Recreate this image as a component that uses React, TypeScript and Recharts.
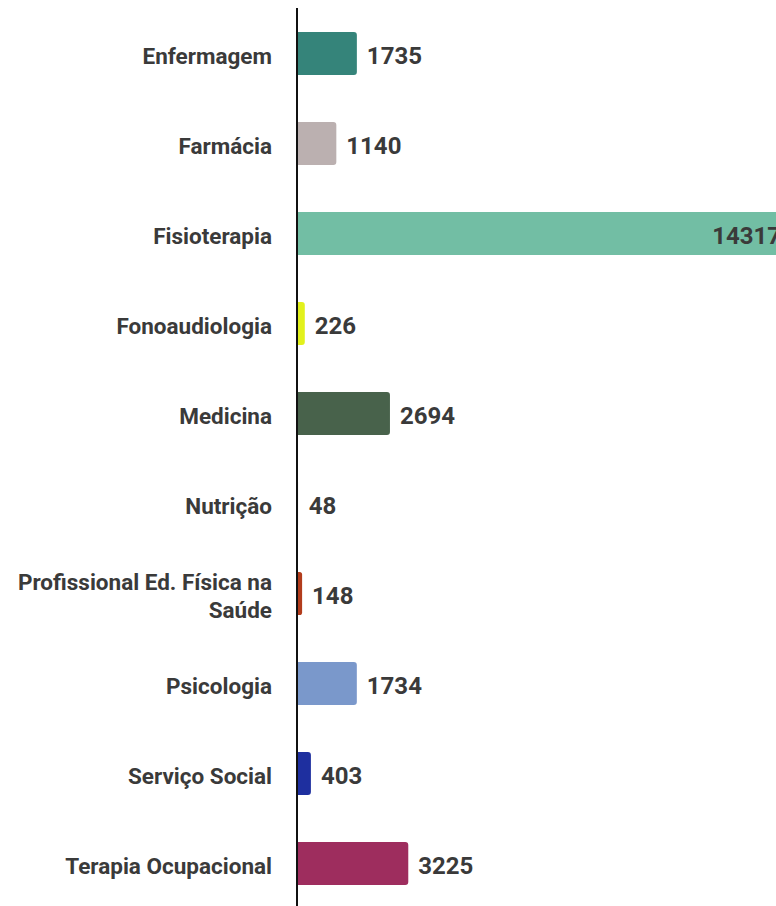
import { Bar, BarChart, Cell, LabelList, XAxis, YAxis } from "recharts";

const categories = [
  "Enfermagem",
  "Farmácia",
  "Fisioterapia",
  "Fonoaudiologia",
  "Medicina",
  "Nutrição",
  "Profissional Ed. Física na Saúde",
  "Psicologia",
  "Serviço Social",
  "Terapia Ocupacional",
];

const values = [1735, 1140, 14317, 226, 2694, 48, 148, 1734, 403, 3225];

const colors = [
  "#35847a",
  "#bbb0b0",
  "#72bea4",
  "#e2f11c",
  "#48624b",
  "#f7f7f7",
  "#b23c1c",
  "#7a98cb",
  "#1e2f9f",
  "#9e2d5e",
];

const data = categories.map((name, i) => ({ name, value: values[i] }));
const maxValue = Math.max(...values);

const TEXT = "#3a3a3a";
const FONT = "Roboto, sans-serif";

// long names are split into two lines like the original
const CategoryTick = ({ x, y, payload }: any) => {
  const label: string = payload.value;
  const lines = label.length > 22 ? ["Profissional Ed. Física na", "Saúde"] : [label];
  const lineHeight = 28;
  const startDy = -((lines.length - 1) * lineHeight) / 2 + 3;
  return (
    <text
      x={x}
      y={y}
      textAnchor="end"
      fill={TEXT}
      fontFamily={FONT}
      fontWeight={700}
      fontSize={22.5}
    >
      {lines.map((line, i) => (
        <tspan key={i} x={x} dy={i === 0 ? startDy : lineHeight} dominantBaseline="central">
          {line}
        </tspan>
      ))}
    </text>
  );
};

// biggest bar gets its value inside the end, the rest sit after the bar
const ValueLabel = ({ x, y, width, height, value }: any) => {
  const inside = value === maxValue;
  return (
    <text
      x={inside ? x + width - 10 : x + width + 10}
      y={y + height / 2 + 2}
      textAnchor={inside ? "end" : "start"}
      dominantBaseline="central"
      fill={TEXT}
      fontFamily={FONT}
      fontWeight={700}
      fontSize={24}
    >
      {value}
    </text>
  );
};

export default function App() {
  return (
    <div
      style={{
        position: "fixed",
        top: 0,
        left: 0,
        width: 776,
        height: 906,
        overflow: "hidden",
        background: "#fff",
      }}
    >
      <BarChart
        width={900}
        height={908}
        data={data}
        layout="vertical"
        margin={{ top: 8, right: 109, bottom: 0, left: 8 }}
        barSize={43}
      >
        <XAxis type="number" hide domain={[0, maxValue]} />
        <YAxis
          type="category"
          dataKey="name"
          width={289}
          tick={<CategoryTick />}
          tickLine={false}
          tickSize={0}
          tickMargin={25}
          axisLine={{ stroke: "#111", strokeWidth: 2 }}
          interval={0}
        />
        <Bar dataKey="value" radius={[0, 3, 3, 0]} isAnimationActive={false}>
          {data.map((d, i) => (
            <Cell key={d.name} fill={colors[i]} />
          ))}
          <LabelList dataKey="value" content={<ValueLabel />} />
        </Bar>
      </BarChart>
    </div>
  );
}
